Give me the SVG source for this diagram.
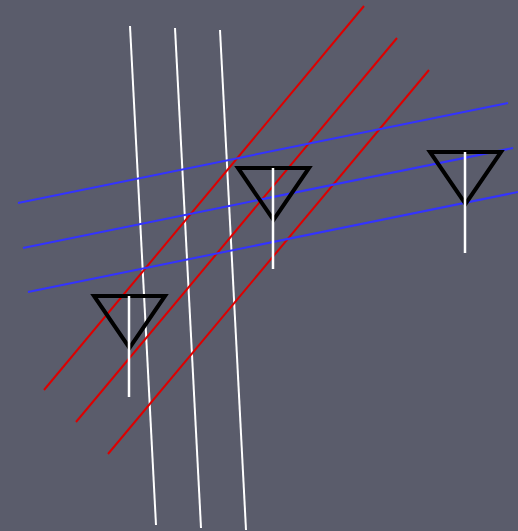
<svg xmlns="http://www.w3.org/2000/svg" width="518" height="531" viewBox="0 0 518 531">
<style>
.w{stroke:#ffffff;stroke-width:2;fill:none}
.r{stroke:#dd0000;stroke-width:2;fill:none}
.b{stroke:#3333ff;stroke-width:2;fill:none}
.tri{stroke:#000000;stroke-width:4;fill:none;stroke-linejoin:miter}
.stem{stroke:#ffffff;stroke-width:2.5}
</style>
<rect width="518" height="531" fill="#5a5c6b"/>
<g id="connectors">
<line class="w" x1="130" y1="26" x2="156" y2="525"/>
<line class="w" x1="175" y1="28" x2="201" y2="528"/>
<line class="w" x1="220" y1="30" x2="246" y2="530"/>
<line class="r" x1="44" y1="390" x2="364" y2="6"/>
<line class="r" x1="76" y1="422" x2="397" y2="38"/>
<line class="r" x1="108" y1="454" x2="429" y2="70"/>
<line class="b" x1="18" y1="203" x2="508" y2="103"/>
<line class="b" x1="23" y1="248" x2="513" y2="148"/>
<line class="b" x1="28" y1="292" x2="518" y2="192"/>
</g>
<g id="node1">
<polygon class="tri" points="94,296 165,296 129.5,348"/>
<line class="stem" x1="129" y1="296" x2="129" y2="397"/>
</g>
<g id="node2">
<polygon class="tri" points="238,168 309,168 273.5,220"/>
<line class="stem" x1="273" y1="168" x2="273" y2="269"/>
</g>
<g id="node3">
<polygon class="tri" points="430,152 501,152 465.5,204"/>
<line class="stem" x1="465" y1="152" x2="465" y2="253"/>
</g>
</svg>
